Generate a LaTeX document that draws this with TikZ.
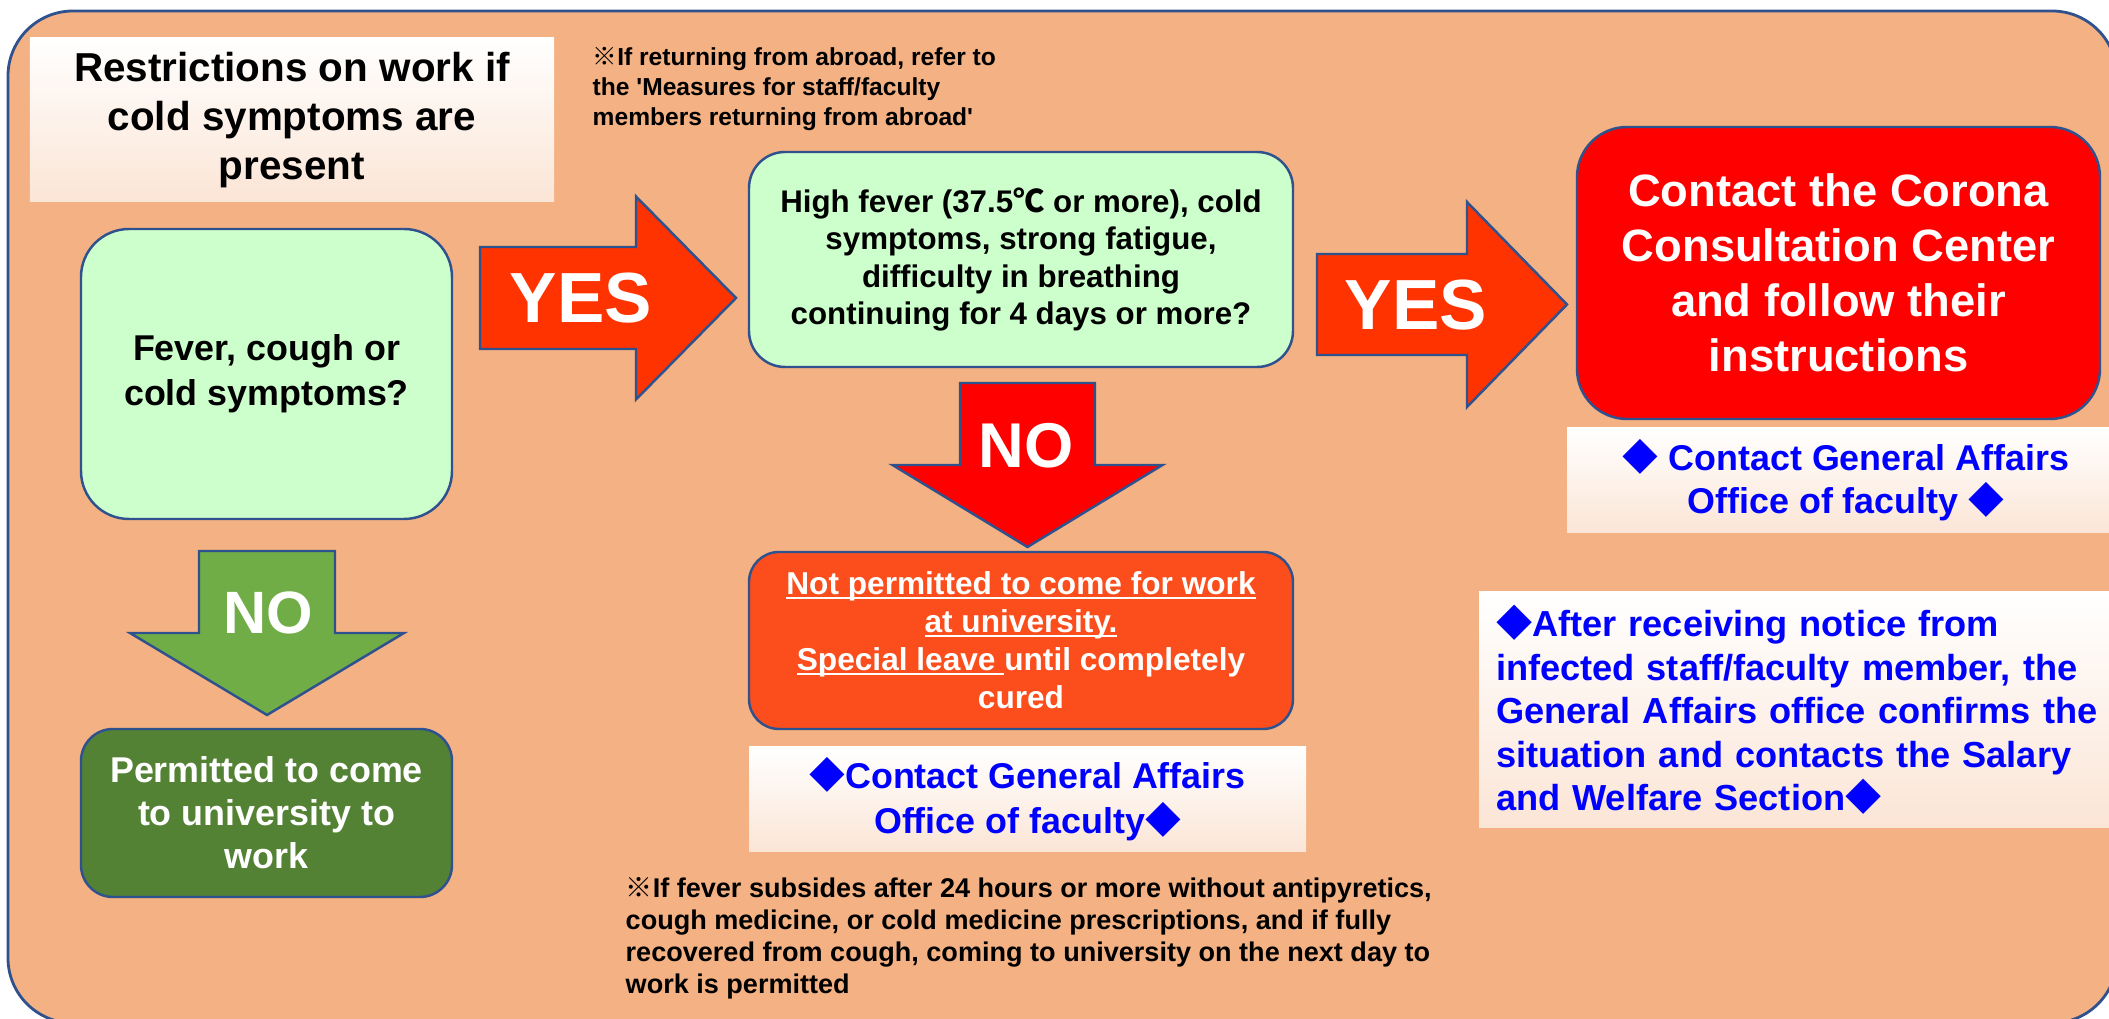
\documentclass[tikz,border=0pt]{standalone}
\usepackage{fontspec}
\setmainfont{Liberation Sans}
\newfontfamily\cjk{Noto Sans CJK JP}
\usepackage{tikz}

\definecolor{bgpeach}{HTML}{F4B183}
\definecolor{lightpeach}{HTML}{FBE5D6}
\definecolor{lineblue}{HTML}{2F528F}
\definecolor{askgreen}{HTML}{CCFFCC}
\definecolor{yesred}{HTML}{FF3300}
\definecolor{nored}{HTML}{FF0000}
\definecolor{stayorange}{HTML}{FC4E1C}
\definecolor{okgreen}{HTML}{548235}
\definecolor{noarrowgreen}{HTML}{70AD47}
\definecolor{infoblue}{HTML}{0000FF}

\newcommand{\txtsize}[2]{\fontsize{#1}{#2}\selectfont\bfseries}
\newcommand{\dia}{{\cjk ◆}}
\newcommand{\refmark}{{\cjk ※}}
\newcommand{\undl}[1]{\setbox0\hbox{#1}\rlap{\rule[-1.1pt]{\wd0}{0.55pt}}\box0}

\begin{document}
\begin{tikzpicture}[
	box/.style={draw=lineblue,line width=0.7pt,align=center,inner sep=0pt},
	fadebox/.style={top color=white,bottom color=lightpeach,inner sep=0pt},
	bigword/.style={text=white,inner sep=0pt,font=\txtsize{#1}{#1}},
	blockarrow/.style={draw=lineblue,line width=0.7pt}]
		\useasboundingbox (0,0) rectangle (21.09,10.19);
		\draw[draw=lineblue,fill=bgpeach,line width=0.8pt,rounded corners=0.65cm] (0.08,-0.04) rectangle (21.17,10.08);

		\node[fadebox,align=center,minimum width=5.24cm,minimum height=1.64cm,font=\txtsize{11.5pt}{13.9pt}] (title) at (2.92,8.99) {Restrictions on work if\\cold symptoms are\\present};
		\node[anchor=north west,align=left,inner sep=0pt,font=\txtsize{7pt}{8.5pt}] (abroad) at (5.92,9.72) {\refmark If returning from abroad, refer to\\the \textquotesingle Measures for staff/faculty\\members returning from abroad\textquotesingle};

		\node[box,fill=askgreen,rounded corners=0.48cm,minimum width=3.71cm,minimum height=2.9cm,font=\txtsize{10.2pt}{12.8pt}] (fever) at (2.665,6.45) {Fever, cough or\\cold symptoms?};
		\node[box,fill=askgreen,rounded corners=0.36cm,minimum width=5.44cm,minimum height=2.15cm,font=\txtsize{8.9pt}{10.7pt}] (highfever) at (10.21,7.595) {High fever (37.5{\cjk ℃} or more), cold\\symptoms, strong fatigue,\\difficulty in breathing\\continuing for 4 days or more?};
		\node[box,fill=nored,text=white,rounded corners=0.5cm,minimum width=5.23cm,minimum height=2.92cm,font=\txtsize{12.9pt}{15.6pt}] (corona) at (18.385,7.46) {Contact the Corona\\Consultation Center\\and follow their\\instructions};
		\node[fadebox,align=center,text=infoblue,minimum width=5.58cm,minimum height=1.05cm,font=\txtsize{10.2pt}{12.2pt}] (affairsA) at (18.46,5.385) {\dia\ Contact General Affairs\\Office of faculty \dia};
		\node[fadebox,align=left,text=infoblue,text width=6.12cm,inner xsep=0.17cm,minimum height=2.36cm,font=\txtsize{10.3pt}{12.4pt}] (notice) at (18.02,3.09) {\dia After receiving notice from\\infected staff/faculty member, the\\General Affairs office confirms the\\situation and contacts the Salary\\and Welfare Section\dia};

		\node[box,fill=stayorange,text=white,rounded corners=0.3cm,minimum width=5.44cm,minimum height=1.77cm,font=\txtsize{9pt}{10.8pt}] (leave) at (10.21,3.785) {\undl{Not permitted to come for work}\\\undl{at university.}\\\undl{Special leave }until completely\\cured};
		\node[fadebox,align=center,text=infoblue,minimum width=5.57cm,minimum height=1.05cm,font=\txtsize{10.2pt}{12.8pt}] (affairsB) at (10.275,2.195) {\dia Contact General Affairs\\Office of faculty\dia};
		\node[box,fill=okgreen,text=white,rounded corners=0.32cm,minimum width=3.71cm,minimum height=1.68cm,font=\txtsize{10.2pt}{12.2pt}] (permitted) at (2.665,2.06) {Permitted to come\\to university to\\work};
		\node[anchor=north west,align=left,inner sep=0pt,font=\txtsize{7.7pt}{9.1pt}] (recover) at (6.25,1.42) {\refmark If fever subsides after 24 hours or more without antipyretics,\\cough medicine, or cold medicine prescriptions, and if fully\\recovered from cough, coming to university on the next day to\\work is permitted};

		% block arrows
		\draw[blockarrow,fill=yesred] (4.80,7.72) -- (6.36,7.72) -- (6.36,8.225) -- (7.36,7.21) -- (6.36,6.195) -- (6.36,6.70) -- (4.80,6.70) -- cycle;
		\node[bigword=20.2pt] (yesA) at (5.81,7.21) {YES};
		\draw[blockarrow,fill=yesred] (13.17,7.65) -- (14.67,7.65) -- (14.67,8.17) -- (15.67,7.145) -- (14.67,6.12) -- (14.67,6.64) -- (13.17,6.64) -- cycle;
		\node[bigword=20.2pt] (yesB) at (14.16,7.14) {YES};
		\draw[blockarrow,fill=nored] (9.60,6.36) -- (10.95,6.36) -- (10.95,5.54) -- (11.625,5.54) -- (10.275,4.72) -- (8.925,5.54) -- (9.60,5.54) -- cycle;
		\node[bigword=18pt] (noA) at (10.26,5.73) {NO};
		\draw[blockarrow,fill=noarrowgreen] (1.99,4.68) -- (3.35,4.68) -- (3.35,3.86) -- (4.04,3.86) -- (2.67,3.04) -- (1.30,3.86) -- (1.99,3.86) -- cycle;
		\node[bigword=17pt] (noB) at (2.68,4.06) {NO};
\end{tikzpicture}
\end{document}
